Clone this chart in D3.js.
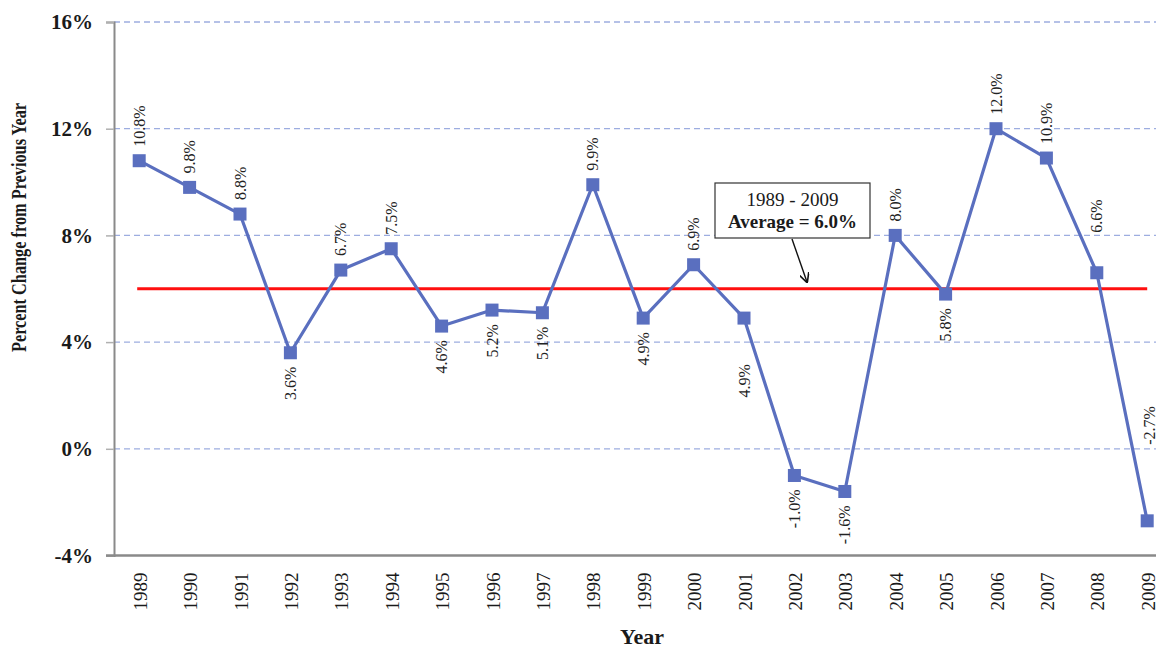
<!DOCTYPE html>
<html>
<head>
<meta charset="utf-8">
<script src="https://cdn.jsdelivr.net/npm/d3@7"></script>
<style>
  html, body { margin: 0; padding: 0; background: #fff; }
  svg { display: block; font-family: "Liberation Serif", "Times New Roman", serif; }
</style>
</head>
<body>
<svg id="chart" width="1156" height="650"></svg>
<script>
// ---- data ----
const years = ["1989","1990","1991","1992","1993","1994","1995","1996","1997","1998","1999",
               "2000","2001","2002","2003","2004","2005","2006","2007","2008","2009"];
const pctChange = [10.8, 9.8, 8.8, 3.6, 6.7, 7.5, 4.6, 5.2, 5.1, 9.9, 4.9,
                   6.9, 4.9, -1.0, -1.6, 8.0, 5.8, 12.0, 10.9, 6.6, -2.7];
const averageValue = 6.0;
const yTicks = [-4, 0, 4, 8, 12, 16];
const averageLabel = ["1989 - 2009", "Average = 6.0%"];
const yAxisTitle = "Percent Change from Previous Year";
const xAxisTitle = "Year";

// ---- layout ----
const svg = d3.select("#chart");
const axisX = 114, topY = 22, bottomY = 555.5;
const step = 50.4;
const x = d3.scaleBand().domain(years).range([axisX, axisX + years.length * step]).padding(0);
const cx = d => x(d) + x.bandwidth() / 2;
const y = d3.scaleLinear().domain([-4, 16]).range([bottomY, topY]);

const lineColor = "#5a6fbf";

// gridlines
svg.append("g").selectAll("line")
  .data(yTicks.filter(t => t !== -4))
  .join("line")
  .attr("x1", axisX).attr("x2", 1156)
  .attr("y1", d => y(d)).attr("y2", d => y(d))
  .attr("stroke", "#9dade0").attr("stroke-width", 1.3)
  .attr("stroke-dasharray", "6,4");

// y axis
const yAxis = d3.axisLeft(y).tickValues(yTicks).tickSize(8).tickPadding(13)
  .tickFormat(d => d + "%");
const gy = svg.append("g").attr("transform", `translate(${axisX},0)`).call(yAxis);
gy.select(".domain").attr("stroke", "#8a8a8a").attr("stroke-width", 2);
gy.selectAll(".tick line").attr("stroke", "#b0b0b0").attr("stroke-width", 1.5);
gy.selectAll(".tick text")
  .attr("font-family", "'Liberation Serif', 'Times New Roman', serif")
  .attr("font-size", 21).attr("font-weight", "bold").attr("fill", "#1a1a1a");

// x axis
const xAxis = d3.axisBottom(x).tickSize(0).tickPadding(0);
const gx = svg.append("g").attr("transform", `translate(0,${bottomY})`).call(xAxis);
gx.select(".domain").attr("stroke", "#8a8a8a").attr("stroke-width", 2.5)
  .attr("d", `M${axisX - 8},0H1156`);
gx.selectAll(".tick text")
  .attr("font-family", "'Liberation Serif', 'Times New Roman', serif")
  .attr("font-size", 19).attr("fill", "#1a1a1a")
  .attr("text-anchor", "end")
  .attr("transform", "translate(1,17) rotate(-90)")
  .attr("x", 0).attr("y", 0).attr("dy", "0.35em");

// average line
svg.append("line")
  .attr("x1", cx(years[0]) - 2).attr("x2", cx(years[years.length - 1]))
  .attr("y1", y(averageValue)).attr("y2", y(averageValue))
  .attr("stroke", "#ff1010").attr("stroke-width", 3);

// series line
const pts = years.map((yr, i) => ({ yr, v: pctChange[i] }));
svg.append("path")
  .datum(pts)
  .attr("fill", "none").attr("stroke", lineColor).attr("stroke-width", 3.2)
  .attr("stroke-linejoin", "round")
  .attr("d", d3.line().x(d => cx(d.yr)).y(d => y(d.v)));

// markers
const ms = 13;
svg.append("g").selectAll("rect")
  .data(pts).join("rect")
  .attr("x", d => cx(d.yr) - ms / 2).attr("y", d => y(d.v) - ms / 2)
  .attr("width", ms).attr("height", ms)
  .attr("fill", lineColor);

// data labels (placement config: side and extra offset)
const below = new Set(["1992","1995","1996","1997","1999","2001","2002","2003","2005"]);
const extraOffset = { "2001": 32, "2008": 26, "2009": 62 };
const extraX = { "2009": 2 };
svg.append("g").selectAll("text")
  .data(pts).join("text")
  .attr("font-size", 16).attr("fill", "#222")
  .attr("text-anchor", d => below.has(d.yr) ? "end" : "start")
  .attr("dy", "0.35em")
  .attr("transform", d => {
    const off = 14 + (extraOffset[d.yr] || 0);
    const ty = below.has(d.yr) ? y(d.v) + off : y(d.v) - off;
    return `translate(${cx(d.yr) + (extraX[d.yr] || 0)},${ty}) rotate(-90)`;
  })
  .text(d => d.v.toFixed(1) + "%");

// annotation box
const box = svg.append("g");
box.append("rect")
  .attr("x", 715).attr("y", 183).attr("width", 155).attr("height", 55)
  .attr("fill", "#fff").attr("stroke", "#333").attr("stroke-width", 1.2);
box.append("text").attr("x", 792.5).attr("y", 206).attr("text-anchor", "middle")
  .attr("font-size", 19).attr("fill", "#1a1a1a").text(averageLabel[0]);
box.append("text").attr("x", 792.5).attr("y", 228).attr("text-anchor", "middle")
  .attr("font-size", 19).attr("font-weight", "bold").attr("fill", "#1a1a1a").text(averageLabel[1]);

// arrow
svg.append("defs").append("marker")
  .attr("id", "arr").attr("viewBox", "0 0 10 10").attr("refX", 9).attr("refY", 5)
  .attr("markerWidth", 7).attr("markerHeight", 7).attr("orient", "auto")
  .append("path").attr("d", "M0,0 L10,5 L0,10").attr("fill", "none")
  .attr("stroke", "#111").attr("stroke-width", 1.6);
svg.append("line")
  .attr("x1", 792).attr("y1", 239).attr("x2", 807).attr("y2", 282)
  .attr("stroke", "#111").attr("stroke-width", 1.4).attr("marker-end", "url(#arr)");

// axis titles
svg.append("text")
  .attr("transform", `translate(26,${(103 + 352) / 2}) rotate(-90)`)
  .attr("text-anchor", "middle")
  .attr("font-size", 20).attr("font-weight", "bold").attr("fill", "#1a1a1a")
  .attr("textLength", 249).attr("lengthAdjust", "spacingAndGlyphs")
  .text(yAxisTitle);
svg.append("text")
  .attr("x", 642).attr("y", 644).attr("text-anchor", "middle")
  .attr("font-size", 22).attr("font-weight", "bold").attr("fill", "#1a1a1a")
  .text(xAxisTitle);
</script>
</body>
</html>
